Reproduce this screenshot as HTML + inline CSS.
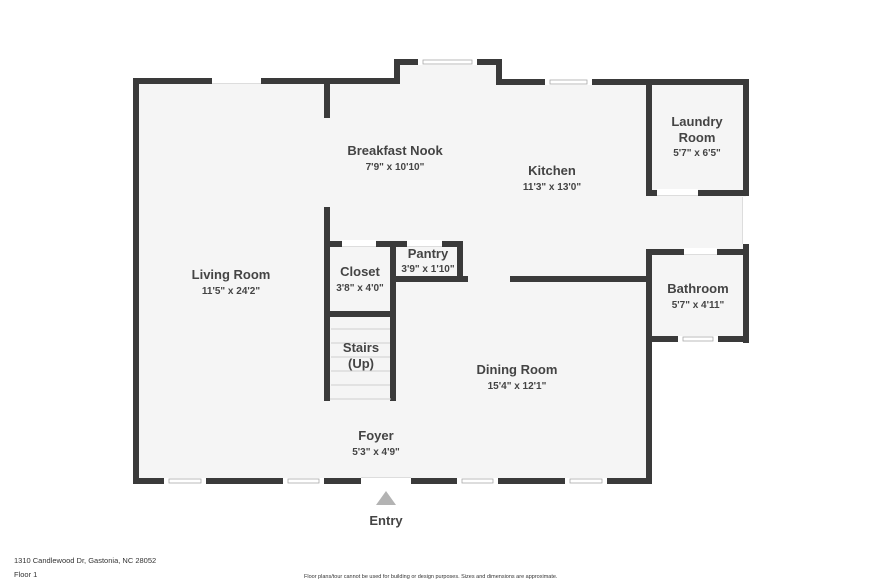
<!DOCTYPE html>
<html><head><meta charset="utf-8"><style>
html,body{margin:0;padding:0;background:#fff;}
svg{display:block;}
text{font-family:"Liberation Sans",sans-serif;fill:#444;font-weight:bold;text-anchor:middle;}
.n{font-size:13px;}
.d{font-size:10px;}
</style></head><body>
<svg width="882" height="588" viewBox="0 0 882 588" xmlns="http://www.w3.org/2000/svg">
<polygon points="136,81 397,81 397,62 499,62 499,81 746,81 746,340 649,340 649,481 136,481" fill="#f5f5f5"/>
<g stroke="#3a3a3a" stroke-width="6" fill="none" stroke-linecap="square">
<polyline points="649,481 136,481 136,81 397,81 397,62 499,62 499,82 746,82 746,193"/>
<line x1="746" y1="247" x2="746" y2="340"/>
<polyline points="649,82 649,193 746,193"/>
<polyline points="649,481 649,252 746,252"/>
<line x1="649" y1="339" x2="746" y2="339"/>
<line x1="513" y1="279" x2="649" y2="279"/>
<line x1="327" y1="81" x2="327" y2="115"/>
<line x1="327" y1="210" x2="327" y2="398"/>
<polyline points="327,244 460,244 460,279"/>
<line x1="393" y1="279" x2="465" y2="279"/>
<line x1="393" y1="244" x2="393" y2="398"/>
<line x1="327" y1="314" x2="393" y2="314"/>
</g>
<g stroke="#d0d0d0" stroke-width="1">
<line x1="331" y1="329" x2="390" y2="329"/><line x1="331" y1="343" x2="390" y2="343"/>
<line x1="331" y1="357" x2="390" y2="357"/><line x1="331" y1="371" x2="390" y2="371"/>
<line x1="331" y1="385" x2="390" y2="385"/><line x1="330" y1="399" x2="391" y2="399"/>
</g>
<!-- openings (doors) -->
<g fill="#fff">
<rect x="212" y="77" width="49" height="7"/>
<rect x="742" y="197" width="8" height="47"/>
<rect x="657" y="189" width="41" height="7"/>
<rect x="684" y="248" width="33" height="7"/>
<rect x="342" y="240" width="34" height="7"/>
<rect x="407" y="240" width="35" height="7"/>
<rect x="361" y="477" width="50" height="8"/>
</g>
<g stroke="#ddd" stroke-width="1" fill="none">
<line x1="212" y1="83.5" x2="261" y2="83.5"/>
<line x1="742.5" y1="197" x2="742.5" y2="244"/>
<line x1="657" y1="195.5" x2="698" y2="195.5"/>
<line x1="684" y1="254.5" x2="717" y2="254.5"/>
<line x1="342" y1="246.5" x2="376" y2="246.5"/>
<line x1="407" y1="246.5" x2="442" y2="246.5"/>
<line x1="361" y1="477.5" x2="411" y2="477.5"/>
</g>
<!-- windows -->
<g fill="#fff" stroke="#aaa" stroke-width="0.8">
<rect x="418" y="59" width="59" height="6" stroke="none"/><rect x="423" y="60" width="49" height="4"/>
<rect x="545" y="79" width="47" height="6" stroke="none"/><rect x="550" y="80" width="37" height="4"/>
<rect x="678" y="336" width="40" height="6" stroke="none"/><rect x="683" y="337" width="30" height="4"/>
<rect x="164" y="478" width="42" height="6" stroke="none"/><rect x="169" y="479" width="32" height="4"/>
<rect x="283" y="478" width="41" height="6" stroke="none"/><rect x="288" y="479" width="31" height="4"/>
<rect x="457" y="478" width="41" height="6" stroke="none"/><rect x="462" y="479" width="31" height="4"/>
<rect x="565" y="478" width="42" height="6" stroke="none"/><rect x="570" y="479" width="32" height="4"/>
</g>
<polygon points="376,505 386,491 396,505" fill="#b3b3b3"/>
<text class="n" x="395" y="155">Breakfast Nook</text><text class="d" x="395" y="170">7'9" x 10'10"</text>
<text class="n" x="552" y="175">Kitchen</text><text class="d" x="552" y="190">11'3" x 13'0"</text>
<text class="n" x="697" y="126">Laundry</text><text class="n" x="697" y="142">Room</text><text class="d" x="697" y="156">5'7" x 6'5"</text>
<text class="n" x="231" y="279">Living Room</text><text class="d" x="231" y="294">11'5" x 24'2"</text>
<text class="n" x="360" y="276">Closet</text><text class="d" x="360" y="291">3'8" x 4'0"</text>
<text class="n" x="428" y="258">Pantry</text><text class="d" x="428" y="272">3'9" x 1'10"</text>
<text class="n" x="361" y="352">Stairs</text><text class="n" x="361" y="368">(Up)</text>
<text class="n" x="517" y="374">Dining Room</text><text class="d" x="517" y="389">15'4" x 12'1"</text>
<text class="n" x="698" y="293">Bathroom</text><text class="d" x="698" y="308">5'7" x 4'11"</text>
<text class="n" x="376" y="440">Foyer</text><text class="d" x="376" y="455">5'3" x 4'9"</text>
<text class="n" x="386" y="525">Entry</text>
<text x="14" y="563" style="font-size:7.5px;text-anchor:start;font-weight:normal;fill:#333">1310 Candlewood Dr, Gastonia, NC 28052</text>
<text x="14" y="577" style="font-size:7.5px;text-anchor:start;font-weight:normal;fill:#333">Floor 1</text>
<text x="304" y="578" style="font-size:5.5px;text-anchor:start;font-weight:normal;fill:#333">Floor plans/tour cannot be used for building or design purposes. Sizes and dimensions are approximate.</text>
</svg>
</body></html>
